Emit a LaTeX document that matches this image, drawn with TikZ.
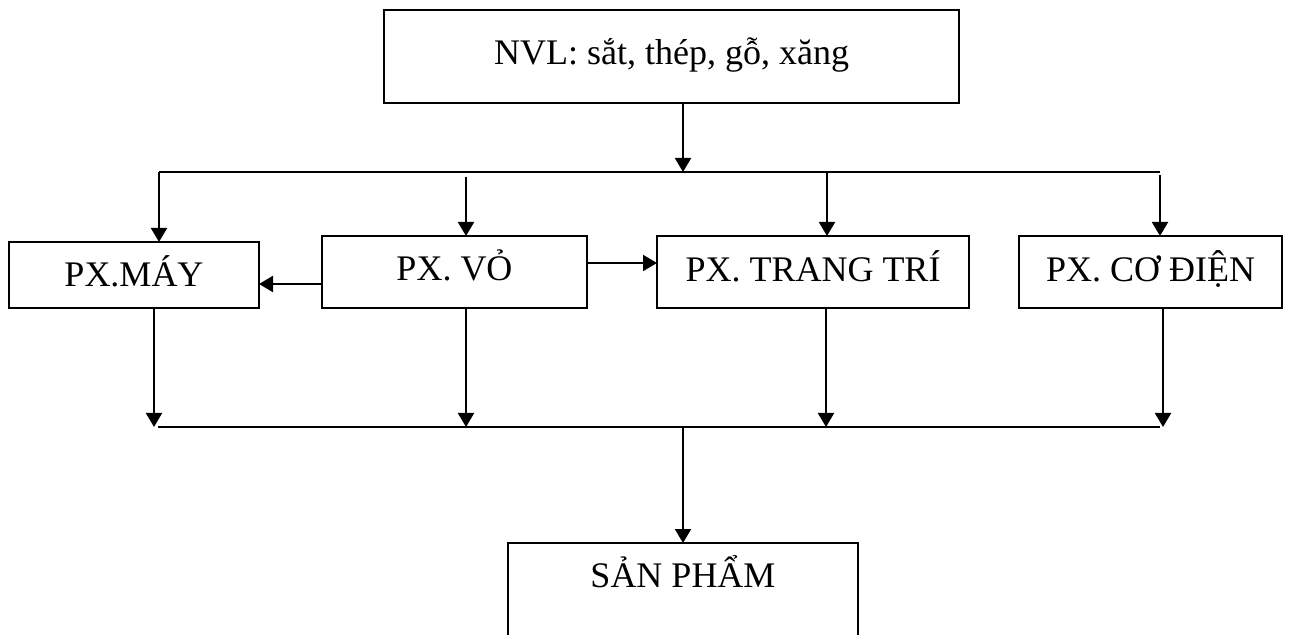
\documentclass[tikz,border=0pt]{standalone}
\usepackage{fontspec}
\setmainfont{Liberation Serif}
\usetikzlibrary{calc, positioning}
\usetikzlibrary{arrows.meta}

\tikzset{
  box/.style={draw, line width=1pt, inner sep=0pt, outer sep=0pt,
    font=\fontsize{18pt}{21pt}\selectfont, text height=12pt},
  arr/.style={line width=1pt, -{Triangle[length=7pt, width=8pt]}},
  bus/.style={line width=1pt}
}

\begin{document}
\begin{tikzpicture}[x=0.5pt, y=-0.5pt]
\path[fill=white] (0,0) rectangle (1289,635);
\useasboundingbox (0,0) rectangle (1289,635);

% boxes
\node[box, minimum width=287.5pt, minimum height=46.5pt, text depth=3.5pt] (nvl) at (671.5,56.5) {NVL: sắt, thép, gỗ, xăng};
\node[box, minimum width=125pt, minimum height=33pt, text depth=0pt] (may) at (134,275) {PX.MÁY};
\node[box, minimum width=132.5pt, minimum height=36pt, text depth=3pt] (vo) at (454.5,272) {PX. VỎ};
\node[box, minimum width=156pt, minimum height=36pt, text depth=2pt] (tt) at (813,272) {PX. TRANG TRÍ};
\node[box, minimum width=131.5pt, minimum height=36pt, text depth=2pt] (cd) at (1150.5,272) {PX. CƠ ĐIỆN};
\node[box, minimum width=175pt, minimum height=60pt, text depth=28pt] (sp) at (683,603) {SẢN PHẨM};

% upper bus
\coordinate (busT) at (683,172);
\coordinate (busTL) at (159,172);
\coordinate (busTR) at (1160,172);
\coordinate (voin) at (466,177);
\coordinate (ttin) at (827,172);
\coordinate (cdin) at (1160,175);

\draw[arr] (nvl.south -| busT) -- (busT);
\draw[bus] (busTL) -- (busTR);
\draw[arr] (busTL) -- (busTL |- may.north);
\draw[arr] (voin) -- (voin |- vo.north);
\draw[arr] (ttin) -- (ttin |- tt.north);
\draw[arr] (cdin) -- (cdin |- cd.north);

\draw[arr] ([yshift=-6pt]vo.west) -- ([yshift=-6pt]vo.west -| may.east);
\draw[arr] ([yshift=4.5pt]vo.east) -- ([yshift=4.5pt]vo.east -| tt.west);

% lower bus
\coordinate (busB) at (683,427);
\coordinate (busBL) at (158,427);
\coordinate (busBR) at (1160,427);
\coordinate (mayout) at (154,427);
\coordinate (voout) at (466,427);
\coordinate (ttout) at (826,427);
\coordinate (cdout) at (1163,427);

\draw[arr] (mayout |- may.south) -- (mayout);
\draw[arr] (voout |- vo.south) -- (voout);
\draw[arr] (ttout |- tt.south) -- (ttout);
\draw[arr] (cdout |- cd.south) -- (cdout);
\draw[bus] (busBL) -- (busBR);
\draw[arr] (busB) -- (sp.north);
\end{tikzpicture}
\end{document}
